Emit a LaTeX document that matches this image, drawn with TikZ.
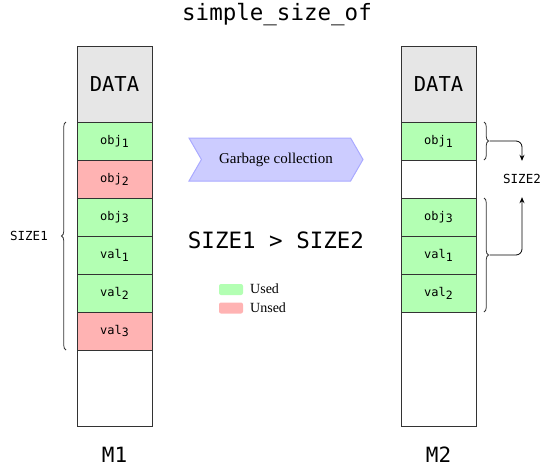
\documentclass[tikz,border=0pt]{standalone}
\usepackage{fontspec}
\setmainfont{Liberation Serif}
\setmonofont{DejaVu Sans Mono}
\usetikzlibrary{shapes.symbols,decorations.pathreplacing,arrows.meta}
\definecolor{usedc}{HTML}{B3FFB3}
\definecolor{unusedc}{HTML}{FFB3B3}
\definecolor{datac}{HTML}{E6E6E6}
\definecolor{sigfill}{HTML}{CCCCFF}
\definecolor{sigdraw}{HTML}{AAAAFF}
\definecolor{linec}{HTML}{333333}
\newcommand{\sbs}[1]{\raisebox{-0.45ex}{\fontsize{11.5}{13}\selectfont #1}}
\tikzset{
  cell/.style={draw=linec, line width=0.8pt, minimum width=75pt, minimum height=38pt, inner sep=0pt, font=\ttfamily\fontsize{12}{14}\selectfont},
  used/.style={cell, fill=usedc},
  unused/.style={cell, fill=unusedc},
  empty/.style={cell, fill=white},
  datab/.style={cell, fill=datac, minimum height=76pt, font=\ttfamily\fontsize{20.5}{24}\selectfont},
  big/.style={font=\ttfamily\fontsize{21}{25}\selectfont, inner sep=0pt},
  small/.style={font=\ttfamily\fontsize{12.5}{14}\selectfont, inner sep=0pt},
  bracel/.style={draw=linec, line width=0.8pt, decorate, decoration={brace, amplitude=4.5pt}},
  conn/.style={draw=black, line width=0.8pt, -{Stealth[length=6pt,width=5pt]}, rounded corners=6pt},
  swatch/.style={rounded corners=2pt, minimum width=24pt, minimum height=11pt, inner sep=0pt},
  legtext/.style={font=\fontsize{14}{16}\selectfont, inner sep=0pt, anchor=west}
}
\begin{document}
\begin{tikzpicture}[x=1pt,y=-1pt]
\useasboundingbox (0,0) rectangle (541,467);
% title
\node[big, font=\ttfamily\fontsize{22.5}{26}\selectfont] (title) at (277,15) {simple\_size\_of};
% M1 column
\node[datab] (d1) at (114.5,84) {DATA};
\node[used]   (a1) at (114.5,141) {obj\sbs{1}};
\node[unused] (a2) at (114.5,179) {obj\sbs{2}};
\node[used]   (a3) at (114.5,217) {obj\sbs{3}};
\node[used]   (a4) at (114.5,255) {val\sbs{1}};
\node[used]   (a5) at (114.5,293) {val\sbs{2}};
\node[unused] (a6) at (114.5,331) {val\sbs{3}};
\node[empty, minimum height=76pt] (a7) at (114.5,388) {};
% M2 column
\node[datab] (d2) at (438.5,84) {DATA};
\node[used]   (b1) at (438.5,141) {obj\sbs{1}};
\node[empty]  (b2) at (438.5,179) {};
\node[used]   (b3) at (438.5,217) {obj\sbs{3}};
\node[used]   (b4) at (438.5,255) {val\sbs{1}};
\node[used]   (b5) at (438.5,293) {val\sbs{2}};
\node[empty, minimum height=114pt] (b6) at (438.5,369) {};
% labels
\node[big] (m1) at (114.5,455) {M1};
\node[big] (m2) at (438.5,455) {M2};
% left brace
\draw[bracel] (66,350) -- (66,122);
\node[small, anchor=east] (s1) at (48,236) {SIZE1};
% right braces
\draw[bracel] (484,122) -- (484,160);
\draw[bracel] (484,198) -- (484,312);
\coordinate (t1) at (489.5,141);
\coordinate (t2) at (489.5,255);
\node[small, minimum height=36pt] (s2) at (522,179) {SIZE2};
\draw[conn] (t1) -| (s2.north);
\draw[conn] (t2) -| (s2.south);
% signal
\node[signal, signal from=west, signal to=east, signal pointer angle=120, fill=sigfill, draw=sigdraw, line width=1pt, minimum width=174pt, minimum height=43pt, font=\fontsize{15}{17}\selectfont] (gc) at (276,159.5) {Garbage collection};
% comparison
\node[big, font=\ttfamily\fontsize{22.5}{26}\selectfont] (cmp) at (276,240) {SIZE1 > SIZE2};
% legend
\node[swatch, fill=usedc] (lu) at (231,289.5) {};
\node[swatch, fill=unusedc] (ln) at (231,308) {};
\node[legtext] (tu) at (250,289) {Used};
\node[legtext] (tn) at (250,307.5) {Unsed};
\end{tikzpicture}
\end{document}
